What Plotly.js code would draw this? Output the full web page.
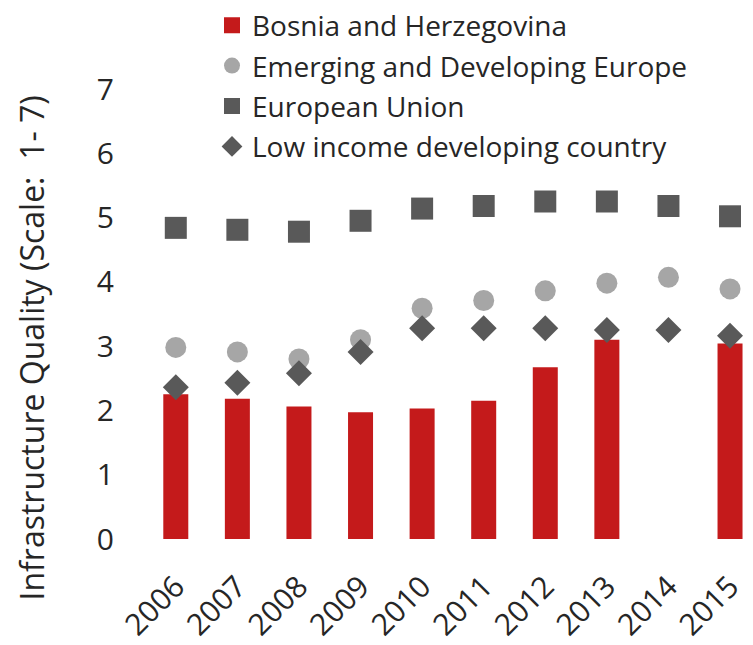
<!DOCTYPE html>
<html>
<head>
<meta charset="utf-8">
<script src="https://cdn.plot.ly/plotly-3.0.1.min.js"></script>
<style>html,body{margin:0;padding:0;background:#fff;}#chart{width:753px;height:645px;}</style>
</head>
<body>
<div id="chart"></div>
<script>
const years = ["2006","2007","2008","2009","2010","2011","2012","2013","2014","2015"];
const bosnia = [2.25, 2.18, 2.06, 1.97, 2.03, 2.15, 2.67, 3.10, null, 3.04];
const emergingEurope = [2.98, 2.91, 2.80, 3.10, 3.59, 3.71, 3.86, 3.98, 4.07, 3.89];
const europeanUnion = [4.84, 4.81, 4.78, 4.95, 5.14, 5.18, 5.25, 5.25, 5.18, 5.02];
const lowIncome = [2.36, 2.43, 2.58, 2.91, 3.28, 3.28, 3.28, 3.25, 3.25, 3.16];
const seriesNames = ["Bosnia and Herzegovina", "Emerging and Developing Europe", "European Union", "Low income developing country"];
const yTitle = "Infrastructure Quality (Scale:  1- 7)";

const FONT = "Open Sans, Noto Sans, sans-serif";
const TXT = "#262626";

const traces = [
  {type: "bar", x: years, y: bosnia, name: seriesNames[0], marker: {color: "#C41A1B"}, showlegend: false, legendgroup: "b", hoverinfo: "x+y"},
  {type: "scatter", mode: "markers", x: [null], y: [null], name: seriesNames[0], legendgroup: "b",
   marker: {symbol: "square", color: "#C41A1B", size: 18}},
  {type: "scatter", mode: "markers", x: years, y: emergingEurope, name: seriesNames[1],
   marker: {symbol: "circle", color: "#A6A6A6", size: 21}},
  {type: "scatter", mode: "markers", x: years, y: europeanUnion, name: seriesNames[2],
   marker: {symbol: "square", color: "#595959", size: 22}},
  {type: "scatter", mode: "markers", x: years, y: lowIncome, name: seriesNames[3],
   marker: {symbol: "diamond", color: "#595959", size: 20}}
];

const layout = {
  width: 753, height: 645,
  margin: {l: 145, r: 0, t: 89, b: 106, pad: 0},
  paper_bgcolor: "#fff", plot_bgcolor: "#fff",
  font: {family: FONT, color: TXT, size: 28},
  bargap: 0.594,
  showlegend: true,
  legend: {x: (212-145)/608, xanchor: "left", y: 1.19 + 3/450, yanchor: "top", tracegroupgap: 1,
           font: {family: FONT, size: 28, color: TXT}, bgcolor: "rgba(0,0,0,0)", itemclick: false},
  xaxis: {type: "category", range: [-0.5, 9.373], showline: false, showgrid: false, zeroline: false,
          ticks: "", tickangle: -45, tickfont: {family: FONT, size: 30, color: TXT}, ticklabelstandoff: 23, fixedrange: true},
  yaxis: {range: [0, 7], dtick: 1, tick0: 0, showline: false, showgrid: false, zeroline: false, ticks: "",
          tickfont: {family: FONT, size: 30, color: TXT}, ticklabelstandoff: 30, fixedrange: true},
  annotations: [{text: yTitle, xref: "paper", yref: "paper", x: (31-145)/608, y: (539-348.5)/450,
                 xanchor: "center", yanchor: "middle", textangle: -90, showarrow: false,
                 font: {family: FONT, size: 32, color: TXT}}]
};

Plotly.newPlot("chart", traces, layout, {displayModeBar: false, staticPlot: true});
</script>
</body>
</html>
